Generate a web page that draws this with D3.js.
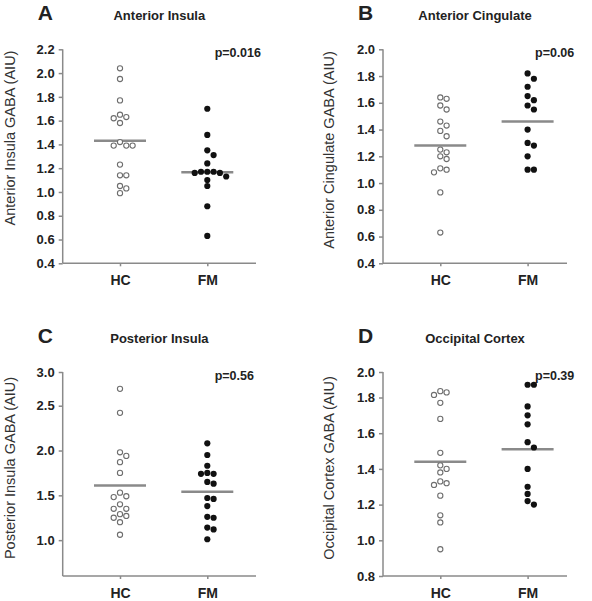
<!DOCTYPE html>
<html><head><meta charset="utf-8">
<script src="https://cdn.jsdelivr.net/npm/d3@7"></script>
<style>body{margin:0;background:#fff}svg{display:block}text{font-family:"Liberation Sans",Arial,sans-serif}</style>
</head><body><svg id="c" width="592" height="601"></svg>
<script>
const categories = ["HC","FM"];
// Panel A: Anterior Insula
const antInsulaHC = [2.04,1.95,1.77,1.65,1.63,1.62,1.58,1.42,1.39,1.39,1.39,1.23,1.14,1.14,1.05,1.03,0.99];
const antInsulaFM = [1.70,1.48,1.35,1.31,1.24,1.17,1.17,1.16,1.16,1.17,1.13,1.10,1.05,0.88,0.63];
const antInsulaMeans = [1.43,1.165];
const antInsulaTicks = [0.4,0.6,0.8,1.0,1.2,1.4,1.6,1.8,2.0,2.2];
// Panel B: Anterior Cingulate
const antCingHC = [1.64,1.63,1.58,1.55,1.46,1.43,1.39,1.35,1.25,1.23,1.20,1.18,1.11,1.10,1.08,0.93,0.63];
const antCingFM = [1.82,1.78,1.72,1.65,1.62,1.58,1.55,1.40,1.30,1.28,1.20,1.10,1.10];
const antCingMeans = [1.28,1.46];
const antCingTicks = [0.4,0.6,0.8,1.0,1.2,1.4,1.6,1.8,2.0];
// Panel C: Posterior Insula
const postInsulaHC = [2.75,2.42,1.98,1.94,1.87,1.75,1.53,1.49,1.48,1.40,1.35,1.35,1.29,1.27,1.25,1.20,1.06];
const postInsulaFM = [2.08,1.95,1.83,1.75,1.74,1.74,1.65,1.63,1.47,1.46,1.38,1.26,1.25,1.14,1.12,1.01];
const postInsulaMeans = [1.61,1.54];
const postInsulaTicks = [1.0,1.5,2.0,2.5,3.0];
// Panel D: Occipital Cortex
const occHC = [1.85,1.84,1.82,1.77,1.68,1.49,1.42,1.40,1.38,1.33,1.32,1.31,1.25,1.14,1.10,0.95];
const occFM = [1.90,1.90,1.75,1.70,1.65,1.55,1.52,1.40,1.30,1.26,1.22,1.20];
const occMeans = [1.44,1.51];
const occTicks = [0.8,1.0,1.2,1.4,1.6,1.8,2.0];

const panels = [
  {letter:"A", title:"Anterior Insula", ylab:"Anterior Insula GABA (AIU)", p:"p=0.016",
   hc:antInsulaHC, fm:antInsulaFM, means:antInsulaMeans, ticks:antInsulaTicks,
   dom:[0.4,2.2], rng:[263.3,49.3], left:62.7, right:256, ylabY:138, ylabX:10},
  {letter:"B", title:"Anterior Cingulate", ylab:"Anterior Cingulate GABA (AIU)", p:"p=0.06",
   hc:antCingHC, fm:antCingFM, means:antCingMeans, ticks:antCingTicks,
   dom:[0.4,2.0], rng:[263.3,49.3], left:383, right:567, ylabY:150, ylabX:329},
  {letter:"C", title:"Posterior Insula", ylab:"Posterior Insula GABA (AIU)", p:"p=0.56",
   hc:postInsulaHC, fm:postInsulaFM, means:postInsulaMeans, ticks:postInsulaTicks,
   dom:[0.6,2.5,3.0], rng:[576,405.7,372], left:62.7, right:256, ylabY:468, ylabX:10},
  {letter:"D", title:"Occipital Cortex", ylab:"Occipital Cortex GABA (AIU)", p:"p=0.39",
   hc:occHC, fm:occFM, means:occMeans, ticks:occTicks,
   dom:[0.8,1.8,2.0], rng:[576,397.5,372], left:383, right:567, ylabY:468, ylabX:329}
];

const svg = d3.select("#c");
const axisCol = "#8a8a8a";

function swarm(vals, y, cx, d){
  const placed = [];
  const order = vals.map((v,i)=>i).sort((a,b)=>vals[b]-vals[a]);
  const out = new Array(vals.length);
  for(const i of order){
    const py = y(vals[i]);
    const cands=[0];
    for(let k=1;k<6;k++){cands.push(k*d,-k*d);}
    let chosen=0;
    for(const c of cands){
      const ok = placed.every(p=>Math.hypot(p.x-(cx+c),p.y-py)>=d*0.92);
      if(ok){chosen=c;break;}
    }
    const pt={x:cx+chosen,y:py,v:vals[i]};
    placed.push(pt); out[i]=pt;
  }
  return out;
}

panels.forEach(P=>{
  const g = svg.append("g");
  const top = P.rng[P.rng.length-1], bottom = P.rng[0];
  const y = d3.scaleLinear().domain(P.dom).range(P.rng);
  const x = d3.scalePoint().domain(categories).range([P.left+57.3, P.left+144.6]);

  const ya = g.append("g").attr("transform",`translate(${P.left},0)`)
    .call(d3.axisLeft(y).tickValues(P.ticks).tickSize(4).tickPadding(4).tickFormat(d3.format(".1f")));
  ya.select(".domain").attr("d",`M0,${bottom}V${top}`);
  const xa = g.append("g").attr("transform",`translate(0,${bottom})`)
    .call(d3.axisBottom(x).tickSize(3).tickPadding(9));
  xa.select(".domain").attr("d",`M${P.left},0H${P.right}`);
  [ya,xa].forEach(a=>{
    a.selectAll(".domain,line").attr("stroke",axisCol).attr("stroke-width",1.5);
    a.selectAll("text").attr("fill","#222").attr("font-weight","bold").attr("font-size",13);
  });
  xa.selectAll("text").attr("font-size",14);

  g.append("text").attr("x",P.left-25).attr("y",top-29).attr("font-size",21).attr("font-weight","bold").attr("fill","#222").text(P.letter);
  g.append("text").attr("x",(P.left+P.right)/2).attr("y",top-29).attr("text-anchor","middle").attr("font-size",13).attr("font-weight","bold").attr("fill","#222").text(P.title);
  g.append("text").attr("x",P.left+152).attr("y",top+8).attr("text-anchor","start").attr("font-size",12.5).attr("font-weight","bold").attr("fill","#222").text(P.p);
  g.append("text").attr("transform",`translate(${P.ylabX+5},${P.ylabY}) rotate(-90)`).attr("text-anchor","middle")
    .attr("font-size",14.5).attr("fill","#333").text(P.ylab);

  g.selectAll(".mean").data(categories).enter().append("line")
    .attr("x1",c=>x(c)-26).attr("x2",c=>x(c)+26)
    .attr("y1",(c,i)=>y(P.means[i])).attr("y2",(c,i)=>y(P.means[i]))
    .attr("stroke","#8a8a8a").attr("stroke-width",2.5);

  const hcPts = swarm(P.hc, y, x("HC"), 6.3);
  const fmPts = swarm(P.fm, y, x("FM"), 6.3);
  g.selectAll(".hc").data(hcPts).enter().append("circle")
    .attr("cx",d=>d.x).attr("cy",d=>d.y).attr("r",2.6)
    .attr("fill","#fff").attr("stroke","#6e6e6e").attr("stroke-width",1.1);
  g.selectAll(".fm").data(fmPts).enter().append("circle")
    .attr("cx",d=>d.x).attr("cy",d=>d.y).attr("r",3.1).attr("fill","#111");
});
</script></body></html>
